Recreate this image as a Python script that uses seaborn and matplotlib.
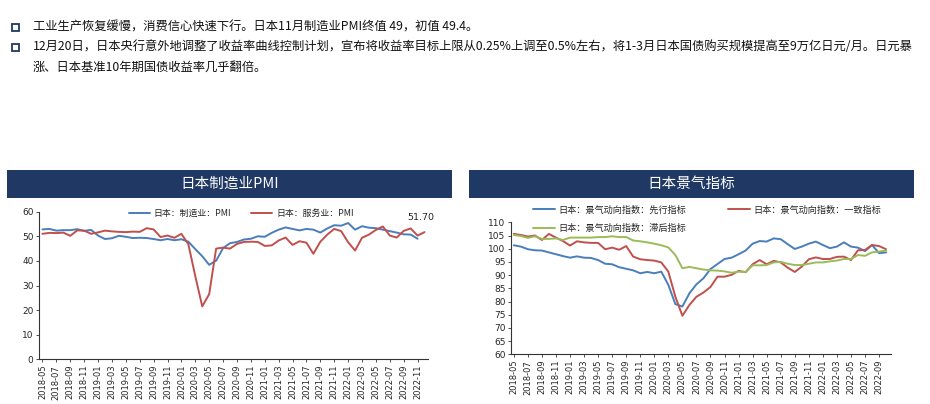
import numpy as np
import pandas as pd
import matplotlib
matplotlib.use("Agg")
import matplotlib.pyplot as plt
import matplotlib.patches as mpatches
import seaborn as sns

# ---- data ----
pmi_months = pd.period_range("2018-05", "2022-12", freq="M").strftime("%Y-%m").tolist()
manuf_pmi = [52.8, 53.0, 52.3, 52.5, 52.5, 52.9, 52.2, 52.6,
             50.3, 48.9, 49.2, 50.2, 49.8, 49.3, 49.4, 49.3, 48.9, 48.4, 48.9, 48.4,
             48.8, 47.8, 44.8, 41.9, 38.4, 40.1, 45.2, 47.2, 47.7, 48.7, 49.0, 50.0,
             49.8, 51.4, 52.7, 53.6, 53.0, 52.4, 53.0, 52.7, 51.5, 53.2, 54.5, 54.3,
             55.4, 52.7, 54.1, 53.5, 53.3, 52.7, 52.1, 51.5, 50.8, 50.7, 49.0, np.nan]
serv_pmi = [51.0, 51.4, 51.3, 51.5, 50.2, 52.4, 52.3, 51.0,
            51.6, 52.3, 52.0, 51.8, 51.7, 51.9, 51.8, 53.3, 52.8, 49.7, 50.3, 49.4,
            51.0, 46.8, 33.8, 21.5, 26.5, 45.0, 45.4, 45.0, 46.9, 47.7, 47.8, 47.7,
            46.1, 46.3, 48.3, 49.5, 46.5, 48.0, 47.4, 42.9, 47.8, 50.7, 53.0, 52.1,
            47.6, 44.2, 49.4, 50.7, 52.6, 54.0, 50.3, 49.5, 52.2, 53.2, 50.3, 51.7]

ci_months = pd.period_range("2018-05", "2022-10", freq="M").strftime("%Y-%m").tolist()
leading = [101.3, 100.8, 99.8, 99.4, 99.3, 98.6, 97.9, 97.2,
           96.6, 97.1, 96.6, 96.5, 95.7, 94.3, 94.1, 93.0, 92.4, 91.8, 90.7, 91.2,
           90.7, 91.3, 86.3, 79.0, 78.1, 83.1, 86.5, 88.8, 92.3, 94.2, 96.1, 96.6,
           97.9, 99.3, 101.9, 102.9, 102.7, 103.9, 103.6, 101.7, 99.9, 100.8, 101.9, 102.7,
           101.4, 100.2, 100.8, 102.4, 100.8, 100.4, 99.1, 101.4, 98.3, 98.6]
coincident = [105.6, 105.2, 104.6, 105.0, 103.3, 105.6, 104.2, 102.9,
              101.2, 102.8, 102.4, 102.2, 102.2, 99.8, 100.4, 99.6, 101.0, 97.0, 96.0, 95.7,
              95.5, 94.8, 91.3, 81.8, 74.6, 78.7, 81.8, 83.4, 85.5, 89.4, 89.4, 90.1,
              91.6, 91.1, 94.1, 95.7, 94.1, 95.4, 94.8, 92.8, 91.2, 93.2, 96.0, 96.7,
              96.1, 96.1, 96.9, 97.0, 95.7, 99.4, 99.5, 101.4, 101.0, 99.8]
lagging = [105.2, 104.8, 104.1, 104.7, 103.7, 103.7, 103.9, 103.3,
           104.2, 104.2, 104.2, 104.2, 104.4, 104.4, 104.7, 104.4, 104.4, 103.1, 102.8, 102.4,
           101.9, 101.3, 100.5, 97.6, 92.6, 93.1, 92.6, 92.1, 91.8, 91.7, 91.4, 90.9,
           91.3, 91.2, 93.7, 93.7, 93.8, 94.8, 95.0, 94.3, 93.8, 93.8, 94.3, 94.8,
           94.8, 95.2, 95.5, 96.1, 96.1, 97.6, 97.3, 98.6, 98.9, 99.3]

pmi_labels = ["日本：制造业：PMI", "日本：服务业：PMI"]
ci_labels = ["日本：景气动向指数：先行指标", "日本：景气动向指数：一致指标", "日本：景气动向指数：滞后指标"]

bullets = ["工业生产恢复缓慢，消费信心快速下行。日本11月制造业PMI终值 49，初值 49.4。",
           "12月20日，日本央行意外地调整了收益率曲线控制计划，宣布将收益率目标上限从0.25%上调至0.5%左右，将1-3月日本国债购买规模提高至9万亿日元/月。日元暴",
           "涨、日本基准10年期国债收益率几乎翻倍。"]

BLUE, RED, GREEN = "#4A7EBB", "#C0504D", "#9BBB59"
NAVY = "#1F3864"

sns.set_theme(style="white")
plt.rcParams["font.family"] = ["Noto Sans CJK SC", "DejaVu Sans"]
plt.rcParams["axes.unicode_minus"] = False

W, H = 930, 404
fig = plt.figure(figsize=(W / 100, H / 100), dpi=100)
fig.patch.set_facecolor("white")


def fx(px):
    return px / W


def fy(py):
    return 1 - py / H


# bullet text
for i, (yy, txt) in enumerate([(27, bullets[0]), (47, bullets[1]), (67, bullets[2])]):
    if i < 2:
        fig.patches.append(mpatches.Rectangle((fx(12), fy(yy + 4)), fx(7), 7 / H, fill=False,
                                              edgecolor=NAVY, linewidth=1.3,
                                              transform=fig.transFigure))
    fig.text(fx(33), fy(yy), txt, fontsize=8.85, color="#111111", va="center", ha="left")

# header boxes
for x0, x1, title in [(7, 452, "日本制造业PMI"), (469, 914, "日本景气指标")]:
    fig.patches.append(mpatches.Rectangle((fx(x0), fy(198)), fx(x1 - x0), 28 / H,
                                          facecolor=NAVY, edgecolor="none",
                                          transform=fig.transFigure))
    fig.text(fx((x0 + x1) / 2), fy(184), title, color="white", fontsize=10.5,
             ha="center", va="center")


def style_axis(ax, labels):
    for s in ["top", "right"]:
        ax.spines[s].set_visible(False)
    for s in ["left", "bottom"]:
        ax.spines[s].set_color("#333333")
        ax.spines[s].set_linewidth(0.8)
    ax.set_xticks(range(0, len(labels), 2))
    ax.set_xticklabels(labels[::2], rotation=90, fontsize=6, family="DejaVu Sans")
    ax.tick_params(axis="both", length=2.5, width=0.6, color="#333333", pad=1.5,
                   direction="out", bottom=True, left=True)
    for t in ax.get_yticklabels():
        t.set_fontsize(6.5)
        t.set_family("DejaVu Sans")
    ax.set_xlabel("")
    ax.set_ylabel("")
    ax.grid(False)


# ---- left: PMI ----
ax1 = fig.add_axes([fx(39), fy(359.3), fx(428 - 39), (359.3 - 211.7) / H])
df1 = pd.DataFrame({"月份": range(len(pmi_months)),
                    pmi_labels[0]: manuf_pmi, pmi_labels[1]: serv_pmi})
sns.lineplot(data=df1, x="月份", y=pmi_labels[0], ax=ax1, color=BLUE, linewidth=1.4,
             label=pmi_labels[0])
sns.lineplot(data=df1, x="月份", y=pmi_labels[1], ax=ax1, color=RED, linewidth=1.4,
             label=pmi_labels[1])
ax1.set_ylim(0, 60)
ax1.set_yticks(range(0, 61, 10))
ax1.set_xlim(-0.5, len(pmi_months) - 0.5)
style_axis(ax1, pmi_months)
ax1.legend(loc="upper center", bbox_to_anchor=(0.52, 1.075), ncol=2, frameon=False,
           fontsize=6.4, handlelength=2.4, columnspacing=2.2, handletextpad=0.4)
ax1.annotate(f"{serv_pmi[-1]:.2f}", (len(pmi_months) - 1, serv_pmi[-1]),
             xytext=(-3, 9), textcoords="offset points", ha="center", fontsize=6.8,
             family="DejaVu Sans", color="#222222")

# ---- right: CI ----
ax2 = fig.add_axes([fx(511), fy(354.3), fx(891 - 511), (354.3 - 222.3) / H])
df2 = pd.DataFrame({"月份": range(len(ci_months)), ci_labels[0]: leading,
                    ci_labels[1]: coincident, ci_labels[2]: lagging})
for lab, col in zip(ci_labels, [BLUE, RED, GREEN]):
    sns.lineplot(data=df2, x="月份", y=lab, ax=ax2, color=col, linewidth=1.4, label=lab)
ax2.set_ylim(60, 110)
ax2.set_yticks(range(60, 111, 5))
ax2.set_xlim(-0.4, len(ci_months) - 0.3)
style_axis(ax2, ci_months)
h, l = ax2.get_legend_handles_labels()
ax2.legend([h[0], h[2], h[1]], [l[0], l[2], l[1]], loc="upper left",
           bbox_to_anchor=(0.035, 1.19), ncol=2, frameon=False, fontsize=6.6,
           handlelength=2.4, columnspacing=4.6, handletextpad=0.4, labelspacing=1.0)

fig.savefig("out.png", dpi=100, facecolor="white")
